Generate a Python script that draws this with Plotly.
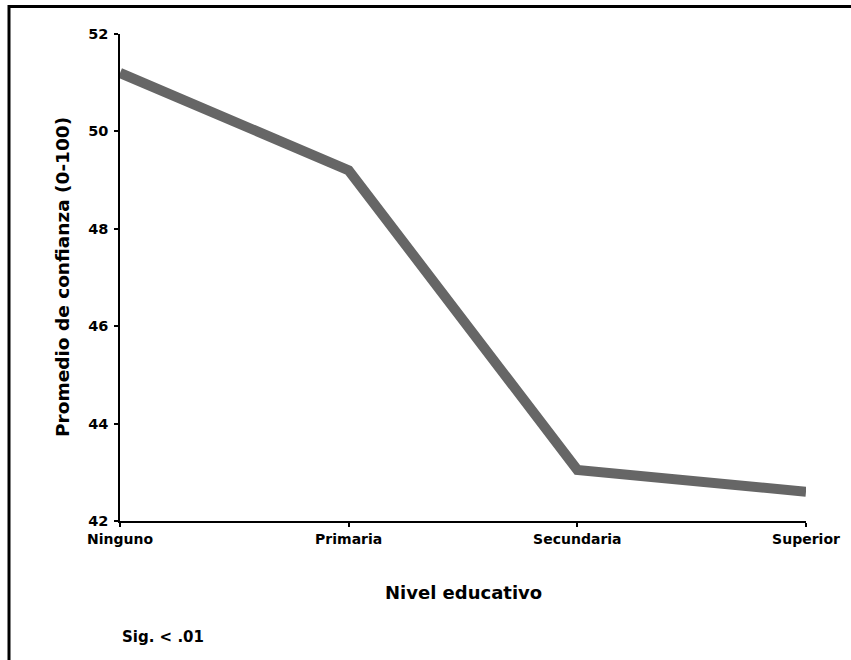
import plotly.graph_objects as go

categorias = ["Ninguno", "Primaria", "Secundaria", "Superior"]
promedio = [51.2, 49.2, 43.05, 42.6]
y_ticks = [42, 44, 46, 48, 50, 52]

W, H = 851, 660
L, R, T, B = 120, 45, 34, 139
pw, ph = W - L - R, H - T - B

def px(x):
    return (x - L) / pw

def py(y):
    return (H - B - y) / ph

fig = go.Figure()
fig.add_trace(go.Scatter(
    x=list(range(len(categorias))), y=promedio, mode="lines",
    line=dict(color="#666666", width=10), hoverinfo="skip", showlegend=False))

font_b = dict(family="DejaVu Sans", color="black", weight="bold")

fig.update_layout(
    width=W, height=H, margin=dict(l=L, r=R, t=T, b=B),
    paper_bgcolor="white", plot_bgcolor="white",
    xaxis=dict(range=[0, 3], tickmode="array", tickvals=list(range(len(categorias))),
               ticktext=categorias, showgrid=False, zeroline=False,
               showline=True, linecolor="black", linewidth=1.5,
               ticks="outside", ticklen=4, tickwidth=2, tickcolor="black",
               tickfont=dict(size=14, **font_b)),
    yaxis=dict(range=[42, 52], tickvals=y_ticks, showgrid=False, zeroline=False,
               showline=True, linecolor="black", linewidth=1.5,
               ticks="outside", ticklen=4, tickwidth=2, tickcolor="black",
               ticklabelstandoff=3,
               tickfont=dict(size=14.5, **font_b)),
    annotations=[
        dict(text="Nivel educativo", x=px(463), y=py(592), xref="paper", yref="paper",
             showarrow=False, xanchor="center", yanchor="middle", font=dict(size=18, **font_b)),
        dict(text="Promedio de confianza (0-100)", x=px(62), y=py(277), xref="paper", yref="paper",
             showarrow=False, xanchor="center", yanchor="middle", textangle=-90,
             font=dict(size=18.5, **font_b)),
        dict(text="Sig. < .01", x=px(120), y=py(637), xref="paper", yref="paper",
             showarrow=False, xanchor="left", yanchor="middle", font=dict(size=15, **font_b)),
    ],
    shapes=[
        dict(type="line", xref="paper", yref="paper", x0=px(8), x1=px(851), y0=py(6.5), y1=py(6.5),
             line=dict(color="black", width=3)),
        dict(type="line", xref="paper", yref="paper", x0=px(9), x1=px(9), y0=py(5), y1=py(660),
             line=dict(color="black", width=3)),
    ],
)

fig.write_html("out.html", config={"displayModeBar": False},
               post_script="document.body.style.margin='0';")
